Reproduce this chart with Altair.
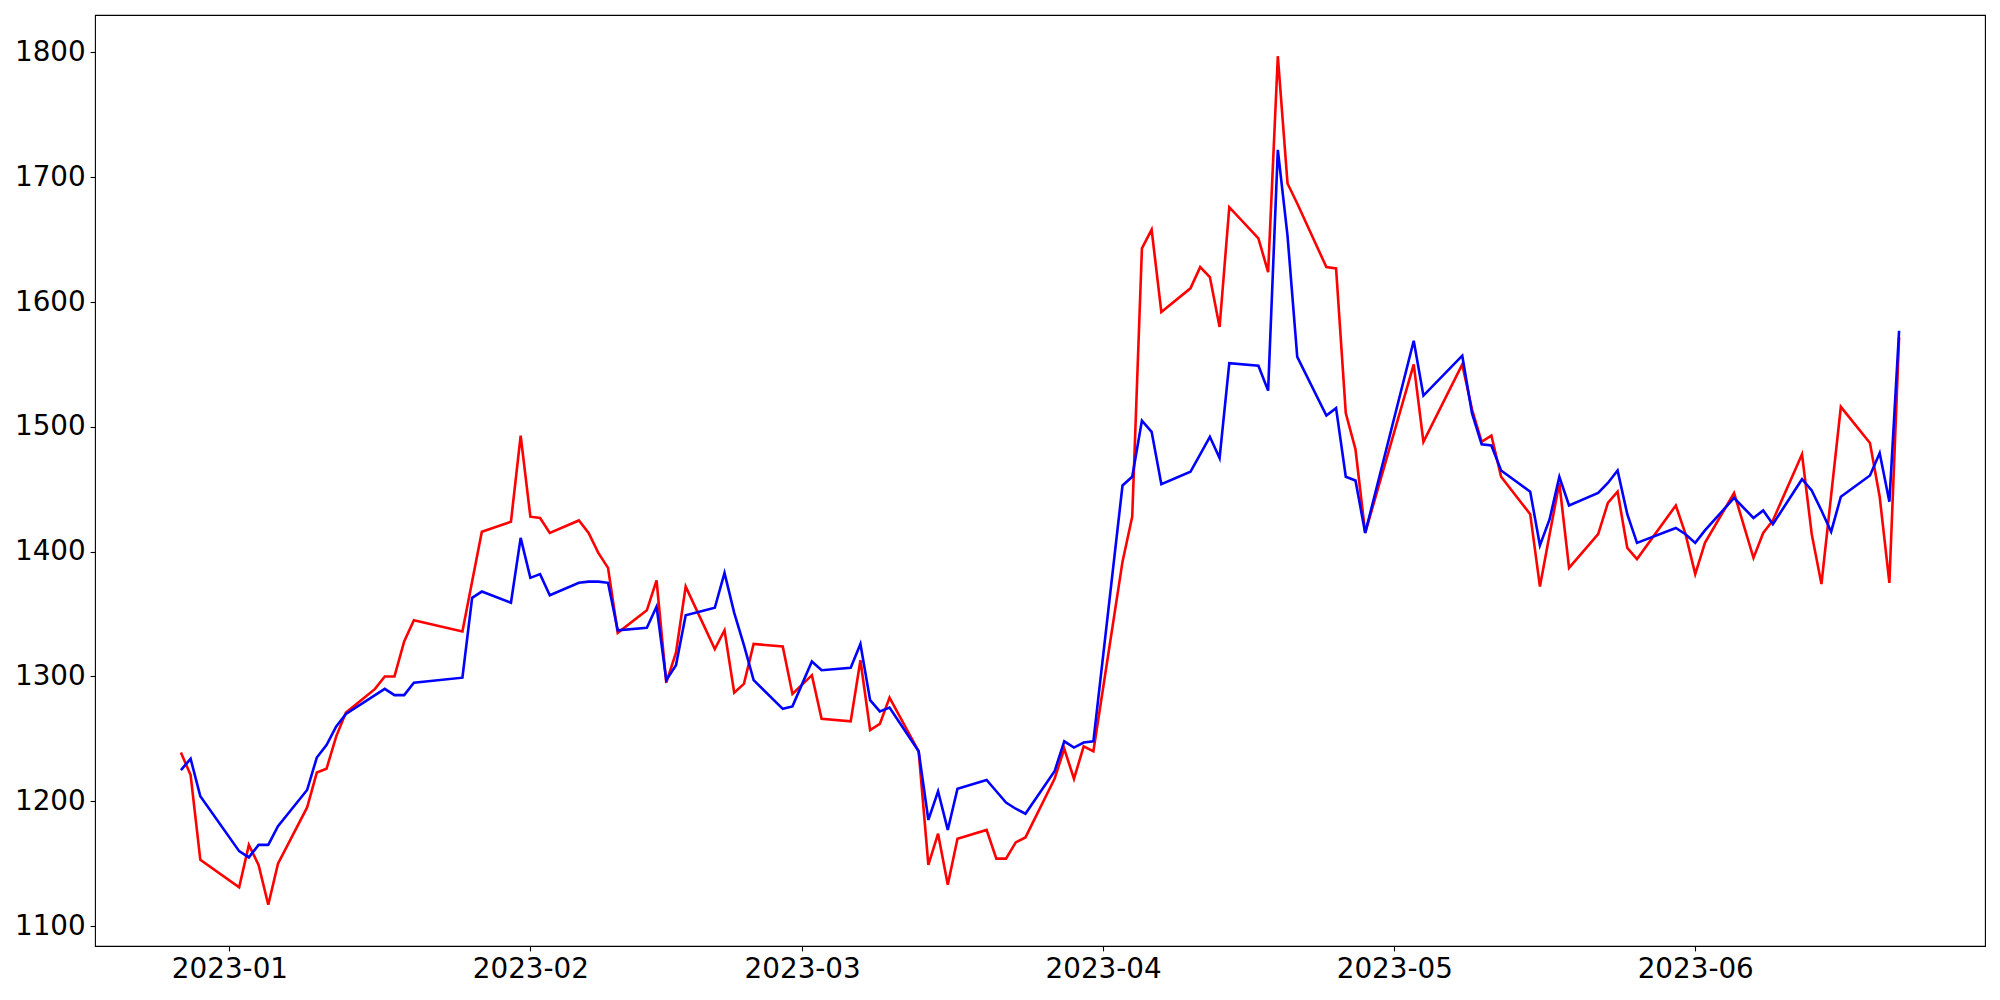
import altair as alt
import pandas as pd

dates = [
    "2022-12-27", "2022-12-28", "2022-12-29",
    "2023-01-02", "2023-01-03", "2023-01-04", "2023-01-05", "2023-01-06",
    "2023-01-09", "2023-01-10", "2023-01-11", "2023-01-12", "2023-01-13",
    "2023-01-16", "2023-01-17", "2023-01-18", "2023-01-19", "2023-01-20",
    "2023-01-25", "2023-01-26", "2023-01-27", "2023-01-30", "2023-01-31",
    "2023-02-01", "2023-02-02", "2023-02-03",
    "2023-02-06", "2023-02-07", "2023-02-08", "2023-02-09", "2023-02-10",
    "2023-02-13", "2023-02-14", "2023-02-15", "2023-02-16", "2023-02-17",
    "2023-02-20", "2023-02-21", "2023-02-22", "2023-02-23", "2023-02-24",
    "2023-02-27", "2023-02-28", "2023-03-02", "2023-03-03",
    "2023-03-06", "2023-03-07", "2023-03-08", "2023-03-09", "2023-03-10",
    "2023-03-13", "2023-03-14", "2023-03-15", "2023-03-16", "2023-03-17",
    "2023-03-20", "2023-03-21", "2023-03-22", "2023-03-23", "2023-03-24",
    "2023-03-27", "2023-03-28", "2023-03-29", "2023-03-30", "2023-03-31",
    "2023-04-03", "2023-04-04", "2023-04-05", "2023-04-06", "2023-04-07",
    "2023-04-10", "2023-04-11", "2023-04-12", "2023-04-13", "2023-04-14",
    "2023-04-17", "2023-04-18", "2023-04-19", "2023-04-20", "2023-04-21",
    "2023-04-24", "2023-04-25", "2023-04-26", "2023-04-27", "2023-04-28",
    "2023-05-03", "2023-05-04",
    "2023-05-08", "2023-05-09", "2023-05-10", "2023-05-11", "2023-05-12",
    "2023-05-15", "2023-05-16", "2023-05-17", "2023-05-18", "2023-05-19",
    "2023-05-22", "2023-05-23", "2023-05-24", "2023-05-25", "2023-05-26",
    "2023-05-30", "2023-05-31", "2023-06-01", "2023-06-02",
    "2023-06-05", "2023-06-07", "2023-06-08", "2023-06-09",
    "2023-06-12", "2023-06-13", "2023-06-14", "2023-06-15", "2023-06-16",
    "2023-06-19", "2023-06-20", "2023-06-21", "2023-06-22",
]

red_values = [
    1239, 1221, 1153,
    1131, 1165, 1149, 1117, 1150,
    1195, 1223, 1226, 1252, 1271,
    1290, 1300, 1300, 1328, 1345,
    1336, 1376, 1416, 1424, 1493,
    1428, 1427, 1415,
    1425, 1415, 1399, 1387, 1335,
    1353, 1377, 1295, 1319, 1372,
    1322, 1337, 1287, 1294, 1326,
    1324, 1286, 1301, 1266,
    1264, 1313, 1257, 1262, 1283,
    1240, 1149, 1174, 1133, 1170,
    1177, 1154, 1154, 1167, 1171,
    1218, 1242, 1218, 1244, 1240,
    1392, 1428, 1643, 1658, 1592,
    1611, 1628, 1620, 1580, 1676,
    1651, 1624, 1797, 1695, 1679,
    1628, 1627, 1511, 1482, 1415,
    1550, 1488,
    1550, 1514, 1488, 1493, 1460,
    1430, 1372, 1414, 1455, 1387,
    1414, 1439, 1448, 1403, 1394,
    1437, 1414, 1382, 1407,
    1447, 1395, 1415, 1425,
    1478, 1414, 1374, 1445, 1516,
    1487, 1444, 1375, 1572,
]

blue_values = [
    1225, 1234, 1204,
    1160, 1155, 1165, 1165, 1180,
    1209, 1235, 1245, 1260, 1270,
    1285, 1290, 1285, 1285, 1295,
    1299, 1363, 1368, 1359, 1411,
    1379, 1382, 1365,
    1375, 1376, 1376, 1375, 1337,
    1339, 1356, 1297, 1309, 1349,
    1355, 1383, 1351, 1325, 1297,
    1274, 1276, 1312, 1305,
    1307, 1326, 1281, 1272, 1275,
    1240, 1185, 1208, 1177, 1210,
    1217, 1208, 1199, 1194, 1190,
    1224, 1248, 1243, 1247, 1248,
    1453, 1460, 1505, 1496, 1454,
    1464, 1478, 1492, 1475, 1551,
    1549, 1529, 1722, 1653, 1556,
    1509, 1515, 1460, 1457, 1415,
    1569, 1525,
    1557, 1511, 1486, 1485, 1465,
    1448, 1405, 1426, 1460, 1437,
    1447, 1455, 1465, 1430, 1407,
    1419, 1414, 1407, 1417,
    1443, 1427, 1433, 1422,
    1458, 1449, 1433, 1416, 1444,
    1461, 1479, 1440, 1577,
]

x_tick_months = [1, 2, 3, 4, 5, 6]
y_ticks = [1100, 1200, 1300, 1400, 1500, 1600, 1700, 1800]

df = pd.DataFrame({"date": dates, "red": red_values, "blue": blue_values})

x_scale = alt.Scale(
    type="utc",
    domain=[
        alt.DateTime(year=2022, month=12, date=18, hours=3, minutes=36, utc=True),
        alt.DateTime(year=2023, month=6, date=30, hours=20, minutes=24, utc=True),
    ],
)
x_axis = alt.Axis(
    values=[alt.DateTime(year=2023, month=m, date=1, utc=True) for m in x_tick_months],
    labelExpr="utcFormat(datum.value, '%Y-%m')",
    title=None,
    labelFlush=False,
    labelOverlap=False,
)
y_scale = alt.Scale(domain=[1084, 1830], nice=False, zero=False)
y_axis = alt.Axis(values=y_ticks, format="d", title=None, minExtent=87, maxExtent=87,
                  labelOverlap=False)

base = alt.Chart(df)
red_line = base.mark_line(color="#ff0000", strokeWidth=2.6).encode(
    x=alt.X("date:T", scale=x_scale, axis=x_axis),
    y=alt.Y("red:Q", scale=y_scale, axis=y_axis),
)
blue_line = base.mark_line(color="#0000ff", strokeWidth=2.6).encode(
    x=alt.X("date:T", scale=x_scale, axis=x_axis),
    y=alt.Y("blue:Q", scale=y_scale, axis=y_axis),
)

chart = (
    alt.layer(red_line, blue_line)
    .properties(
        width=1890,
        height=931,
        padding={"left": 0, "top": 7, "right": 5, "bottom": 5},
    )
    .configure_view(stroke="black", strokeWidth=1.1)
    .configure_axis(
        domain=False,
        grid=False,
        labelFont="DejaVu Sans",
        labelFontSize=27.8,
        labelColor="black",
        tickColor="black",
        tickSize=4.9,
        tickWidth=1.1,
        labelPadding=4.9,
    )
)

chart.save("out.html", embed_options={"renderer": "svg", "actions": False})
